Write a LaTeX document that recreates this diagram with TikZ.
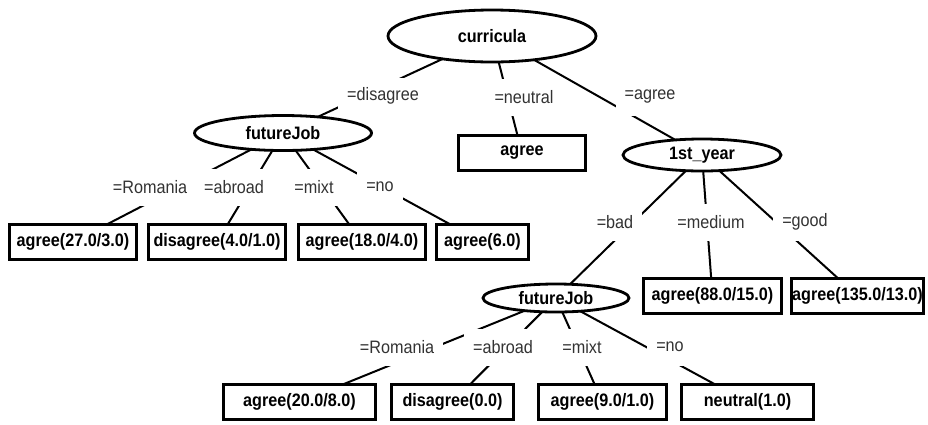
\documentclass[tikz,border=0pt]{standalone}
\usepackage{fontspec}
\setmainfont{Liberation Sans}[FakeStretch=0.9]
\usetikzlibrary{shapes.geometric}
\begin{document}
\begin{tikzpicture}[x=1pt,y=-1pt,
        attr/.style={ellipse,draw,line width=2.8pt,outer sep=0pt,inner sep=0pt,font=\fontsize{18}{21}\selectfont\bfseries},
        leaf/.style={rectangle,draw,line width=3pt,outer sep=0pt,inner xsep=1pt,minimum height=35,font=\fontsize{18}{21}\selectfont\bfseries},
        val/.style={fill=white,inner xsep=9pt,minimum height=37,text=black!80,font=\fontsize{18}{21}\selectfont},
        edge/.style={line width=2pt}]
                    \useasboundingbox (0,0) rectangle (928,424);
                    \node[attr,minimum width=208,minimum height=52] (curricula) at (492,36) {curricula};
                    \node[attr,minimum width=177,minimum height=35] (job1) at (283,133) {futureJob};
                    \node[leaf,minimum width=127] (neutral) at (522,153) {agree};
                    \node[attr,minimum width=158,minimum height=32] (year) at (702,155) {1st\_year};
                    \node[leaf,minimum width=127] (romania1) at (73,242) {agree(27.0/3.0)};
                    \node[leaf,minimum width=137] (abroad1) at (217,242) {disagree(4.0/1.0)};
                    \node[leaf,minimum width=127] (mixt1) at (362,242) {agree(18.0/4.0)};
                    \node[leaf,minimum width=92] (no1) at (482.5,242) {agree(6.0)};
                    \node[attr,minimum width=146,minimum height=28] (job2) at (556,298) {futureJob};
                    \node[leaf,minimum width=138] (medium) at (712.5,296) {agree(88.0/15.0)};
                    \node[leaf,minimum width=132] (good) at (857.5,296) {agree(135.0/13.0)};
                    \node[leaf,minimum width=152] (romania2) at (299.5,402) {agree(20.0/8.0)};
                    \node[leaf,minimum width=122] (abroad2) at (452.5,402) {disagree(0.0)};
                    \node[leaf,minimum width=128] (mixt2) at (602.5,402) {agree(9.0/1.0)};
                    \node[leaf,minimum width=132] (no2) at (747.5,402) {neutral(1.0)};
                    \draw[edge] (curricula)--(job1);
                    \draw[edge] (curricula)--(neutral);
                    \draw[edge] (curricula)--(year);
                    \foreach \leafname in {romania1,abroad1,mixt1,no1}
                        \draw[edge] (job1)--(\leafname);
                    \draw[edge] (year)--(job2);
                    \draw[edge] (year)--(medium);
                    \draw[edge] (year)--(good);
                    \foreach \leafname in {romania2,abroad2,mixt2,no2}
                        \draw[edge] (job2)--(\leafname);
                    \node[val] (vdisagree) at (383,96) {=disagree};
                    \node[val] (vneutral) at (524,97) {=neutral};
                    \node[val] (vagree) at (650,97) {=agree};
                    \node[val] (vromania1) at (150,187) {=Romania};
                    \node[val] (vabroad1) at (234,187) {=abroad};
                    \node[val] (vmixt1) at (314,187) {=mixt};
                    \node[val] (vno1) at (380,187) {=no};
                    \node[val] (vbad) at (615,222) {=bad};
                    \node[val] (vmedium) at (711,222) {=medium};
                    \node[val] (vgood) at (805,222) {=good};
                    \node[val] (vromania2) at (397,347) {=Romania};
                    \node[val] (vabroad2) at (503,347) {=abroad};
                    \node[val] (vmixt2) at (582,347) {=mixt};
                    \node[val] (vno2) at (670,347) {=no};
                \end{tikzpicture}
\end{document}
